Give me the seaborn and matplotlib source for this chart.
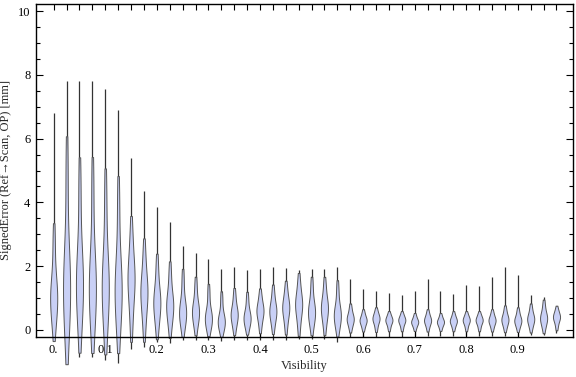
import numpy as np
import pandas as pd
import matplotlib
matplotlib.use("Agg")
import matplotlib.pyplot as plt
import seaborn as sns

# --- data (one violin per 0.025 visibility bin) ---
visibility = np.round(np.arange(40) * 0.025, 3)

# full extent of each violin (thin tail line)
err_min = [-0.20, -1.07, -0.85, -0.85, -0.95, -1.05, -0.60, -0.53, -0.37, -0.40,
           -0.30, -0.30, -0.30, -0.33, -0.30, -0.30, -0.30, -0.30, -0.30, -0.27,
           -0.27, -0.27, -0.37, -0.23, -0.23, -0.23, -0.23, -0.23, -0.20, -0.20,
           -0.20, -0.20, -0.20, -0.20, -0.20, -0.20, -0.20, -0.15, -0.15, -0.10]
err_max = [6.80, 7.80, 7.80, 7.82, 7.55, 6.90, 5.40, 4.37, 3.85, 3.40,
           2.63, 2.42, 2.22, 1.91, 1.98, 1.88, 1.91, 1.97, 1.94, 1.88,
           1.92, 1.92, 1.96, 1.59, 1.27, 1.23, 1.17, 1.09, 1.21, 1.59,
           1.22, 1.13, 1.40, 1.38, 1.67, 1.96, 1.72, 1.10, 1.02, 0.71]

# body of each violin: lower end, mode, upper end
body_lo = [0.20, 0.00, 0.20, 0.20, 0.10, 0.10, 0.20, 0.10, 0.10, 0.10,
           0.10, 0.10, 0.05, 0.00, 0.05, 0.05, 0.10, 0.10, 0.10, 0.10,
           0.10, 0.10, 0.05, 0.05, 0.05, 0.05, 0.05, 0.05, 0.05, 0.05,
           0.05, 0.05, 0.05, 0.05, 0.05, 0.05, 0.05, 0.05, 0.05, 0.10]
body_mode = [1.10, 1.50, 1.60, 1.50, 1.50, 1.40, 1.60, 1.20, 0.90, 0.80,
             0.60, 0.60, 0.40, 0.30, 0.50, 0.40, 0.60, 0.60, 0.70, 0.80,
             0.60, 0.70, 0.50, 0.35, 0.30, 0.35, 0.30, 0.30, 0.25, 0.30,
             0.25, 0.28, 0.30, 0.30, 0.30, 0.33, 0.30, 0.35, 0.38, 0.40]
body_hi = [2.80, 5.00, 4.50, 4.50, 4.20, 4.00, 3.00, 2.40, 2.00, 1.80,
           1.60, 1.40, 1.20, 1.00, 1.10, 1.00, 1.10, 1.20, 1.30, 1.50,
           1.40, 1.40, 1.30, 0.70, 0.55, 0.60, 0.50, 0.50, 0.45, 0.55,
           0.45, 0.50, 0.50, 0.50, 0.55, 0.65, 0.60, 0.70, 0.80, 0.65]

x_ticks = [0.0, 0.1, 0.2, 0.3, 0.4, 0.5, 0.6, 0.7, 0.8, 0.9]
x_labels = ["0.", "0.1", "0.2", "0.3", "0.4", "0.5", "0.6", "0.7", "0.8", "0.9"]
y_ticks = [0, 2, 4, 6, 8, 10]

# long table for seaborn
rows = []
for v, a, m, b in zip(visibility, body_lo, body_mode, body_hi):
    for e in (a, m, m, m, b):
        rows.append((v, e))
df = pd.DataFrame(rows, columns=["Visibility", "SignedError"])

sns.set_theme(style="white")
plt.rcParams["font.family"] = ["Liberation Serif", "DejaVu Serif"]
plt.rcParams["font.size"] = 9

fig = plt.figure(figsize=(5.76, 3.77), dpi=100)
ax = fig.add_axes([36 / 576, 1 - 337 / 377, (573 - 36) / 576, (337 - 4) / 377])

# thin tail lines, behind the violin bodies
ax.vlines(visibility, err_min, err_max, color="#333333", lw=0.9,
          clip_on=False, zorder=0.5)

sns.violinplot(data=df, x="Visibility", y="SignedError", native_scale=True,
               density_norm="width", width=0.55, cut=0.8, inner=None,
               color="#c9d0f6", saturation=1, linecolor="#555555",
               linewidth=0.7, ax=ax)
for c in ax.collections:
    c.set_clip_on(False)

ax.set_xlim(-0.0343, 1.007)
ax.set_ylim(-0.22, 10.22)
ax.set_xticks(x_ticks)
ax.set_xticklabels(x_labels)
ax.set_xticks(visibility, minor=True)
ax.set_yticks(y_ticks)
ax.set_yticklabels([str(t) for t in y_ticks])
ax.set_yticks(np.arange(0, 10.01, 0.5), minor=True)

ax.tick_params(axis="both", which="both", direction="in", colors="black",
               labelsize=9, width=0.8)
ax.tick_params(axis="x", which="major", bottom=True, top=True, length=4, pad=5)
ax.tick_params(axis="x", which="minor", bottom=False, top=True, length=4)
ax.tick_params(axis="y", which="major", left=True, right=True, length=5, pad=4)
ax.tick_params(axis="y", which="minor", left=True, right=True, length=3)

for s in ax.spines.values():
    s.set_color("black")
    s.set_linewidth(1.0)

ax.set_xlabel("Visibility", fontsize=9, labelpad=3)
ax.set_ylabel("SignedError (Ref\u2192Scan, OP) [mm]", fontsize=9, labelpad=4)
ax.grid(False)

fig.savefig("out.png", dpi=100)
